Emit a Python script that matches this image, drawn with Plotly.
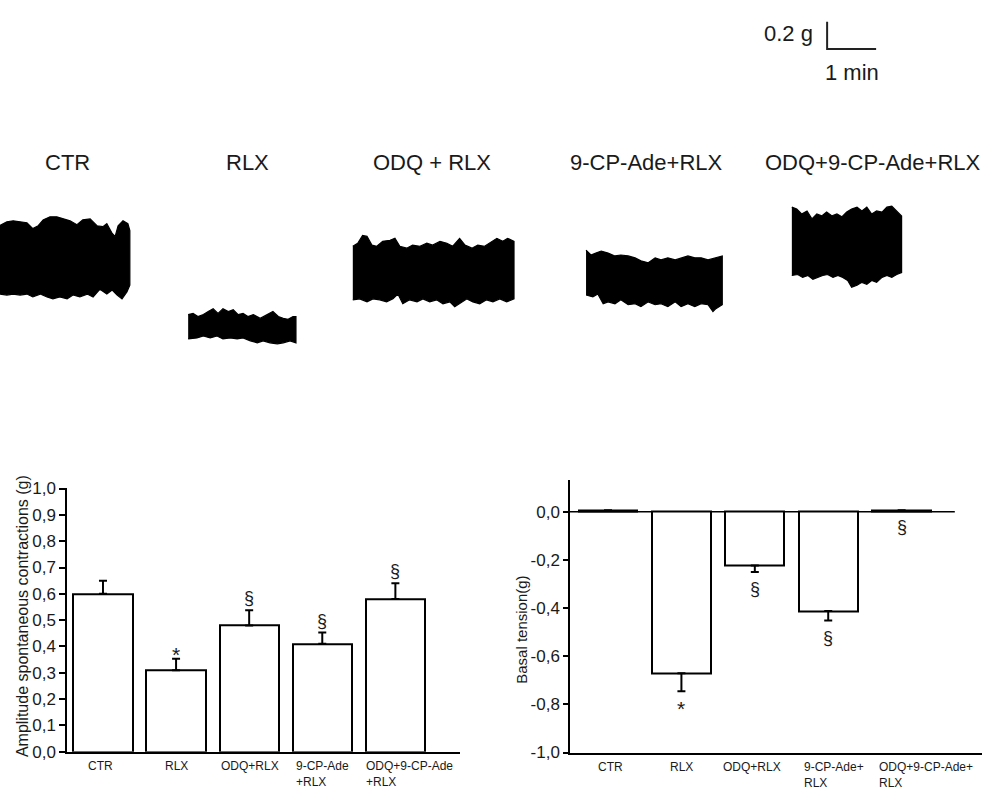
import plotly.graph_objects as go

# ------------------------------------------------------------------ data
categories = ["CTR", "RLX", "ODQ+RLX", "9-CP-Ade+RLX", "ODQ+9-CP-Ade+RLX"]

# Amplitude of spontaneous contractions (g): mean and SEM
amp_mean = [0.60, 0.31, 0.48, 0.41, 0.58]
amp_sem = [0.05, 0.043, 0.058, 0.043, 0.06]
amp_marks = ["", "*", "§", "§", "§"]
amp_ticklabels = ["CTR", "RLX", "ODQ+RLX", "9-CP-Ade<br>+RLX", "ODQ+9-CP-Ade<br>+RLX"]
amp_yticks = [0.0, 0.1, 0.2, 0.3, 0.4, 0.5, 0.6, 0.7, 0.8, 0.9, 1.0]

# Basal tension (g): mean and SEM
basal_mean = [0.006, -0.671, -0.223, -0.412, 0.006]
basal_sem = [0.0, 0.075, 0.027, 0.040, 0.0]
basal_marks = ["", "*", "§", "§", "§"]
basal_ticklabels = ["CTR", "RLX", "ODQ+RLX", "9-CP-Ade+<br>RLX", "ODQ+9-CP-Ade+<br>RLX"]
basal_yticks = [0.0, -0.2, -0.4, -0.6, -0.8, -1.0]
basal_yticktext = ["0,0", "-0,2", "-0,4", "-0,6", "-0,8", "-1,0"]

# Original tracings: envelope of the recorded tension (g) vs time (min)
record_titles = ["CTR", "RLX", "ODQ + RLX", "9-CP-Ade+RLX", "ODQ+9-CP-Ade+RLX"]

ctr_t_top = [0, 0.14, 0.27, 0.41, 0.55, 0.67, 0.78, 0.88, 1.02, 1.16, 1.29, 1.43,
             1.57, 1.69, 1.84, 1.98, 2.10, 2.18, 2.29, 2.35, 2.41, 2.51, 2.61, 2.65]
ctr_g_top = [1.274, 1.300, 1.307, 1.300, 1.293, 1.250, 1.271, 1.314, 1.336, 1.336, 1.321, 1.307,
             1.279, 1.314, 1.321, 1.271, 1.264, 1.286, 1.214, 1.193, 1.271, 1.307, 1.286, 1.236]
ctr_t_bot = [0, 0.14, 0.27, 0.41, 0.55, 0.67, 0.82, 0.96, 1.08, 1.22, 1.37, 1.49,
             1.63, 1.78, 1.90, 2.04, 2.18, 2.29, 2.39, 2.49, 2.59, 2.65]
ctr_g_bot = [0.771, 0.764, 0.771, 0.764, 0.771, 0.750, 0.771, 0.750, 0.736, 0.750, 0.736, 0.764,
             0.750, 0.771, 0.750, 0.807, 0.771, 0.800, 0.764, 0.736, 0.786, 0.836]

rlx_t_top = [0, 0.10, 0.20, 0.31, 0.41, 0.51, 0.61, 0.71, 0.82, 0.92, 1.02, 1.12,
             1.22, 1.33, 1.47, 1.61, 1.73, 1.84, 1.94, 2.04, 2.14, 2.20]
rlx_g_top = [0.621, 0.629, 0.607, 0.621, 0.643, 0.664, 0.629, 0.664, 0.643, 0.657, 0.621, 0.629,
             0.607, 0.621, 0.593, 0.621, 0.643, 0.607, 0.593, 0.586, 0.607, 0.607]
rlx_t_bot = [0, 0.18, 0.31, 0.45, 0.59, 0.71, 0.86, 1.00, 1.12, 1.27, 1.41, 1.53,
             1.67, 1.82, 1.94, 2.08, 2.20]
rlx_g_bot = [0.443, 0.450, 0.464, 0.450, 0.464, 0.443, 0.450, 0.443, 0.450, 0.429, 0.414, 0.429,
             0.414, 0.407, 0.414, 0.429, 0.414]

odq_t_top = [0, 0.10, 0.20, 0.29, 0.39, 0.49, 0.61, 0.76, 0.86, 0.96, 1.10, 1.22, 1.37, 1.51,
             1.63, 1.78, 1.92, 2.04, 2.18, 2.29, 2.43, 2.55, 2.69, 2.84, 2.94, 3.06, 3.16, 3.29]
odq_g_top = [1.121, 1.143, 1.200, 1.193, 1.129, 1.121, 1.157, 1.164, 1.179, 1.121, 1.107, 1.129,
             1.121, 1.143, 1.129, 1.157, 1.143, 1.121, 1.179, 1.129, 1.107, 1.129, 1.121, 1.157,
             1.179, 1.157, 1.179, 1.157]
odq_t_bot = [0, 0.14, 0.29, 0.41, 0.55, 0.69, 0.82, 0.92, 1.02, 1.16, 1.31, 1.43, 1.57,
             1.71, 1.84, 1.98, 2.08, 2.18, 2.33, 2.45, 2.59, 2.73, 2.86, 3.00, 3.14, 3.29]
odq_g_bot = [0.729, 0.736, 0.714, 0.736, 0.729, 0.714, 0.736, 0.771, 0.700, 0.729, 0.714, 0.736,
             0.714, 0.729, 0.700, 0.714, 0.679, 0.700, 0.736, 0.714, 0.700, 0.729, 0.714, 0.736,
             0.714, 0.736]

cp_t_top = [0, 0.10, 0.20, 0.31, 0.45, 0.59, 0.71, 0.86, 1.00, 1.12, 1.27, 1.41,
            1.53, 1.67, 1.82, 1.94, 2.08, 2.22, 2.35, 2.49, 2.63, 2.78]
cp_g_top = [1.093, 1.057, 1.071, 1.086, 1.071, 1.050, 1.057, 1.050, 1.036, 1.014, 1.000, 1.036,
            1.021, 1.036, 1.021, 1.036, 1.050, 1.036, 1.036, 1.021, 1.036, 1.050]
cp_t_bot = [0, 0.14, 0.24, 0.35, 0.45, 0.59, 0.71, 0.86, 1.00, 1.12, 1.27, 1.41,
            1.53, 1.67, 1.82, 1.94, 2.08, 2.22, 2.35, 2.49, 2.59, 2.65, 2.78]
cp_g_bot = [0.764, 0.750, 0.771, 0.700, 0.714, 0.700, 0.729, 0.693, 0.700, 0.679, 0.714, 0.693,
            0.700, 0.679, 0.714, 0.679, 0.700, 0.679, 0.700, 0.693, 0.643, 0.664, 0.693]

odqcp_t_top = [0, 0.10, 0.20, 0.31, 0.41, 0.51, 0.61, 0.71, 0.82, 0.92, 1.02, 1.12,
               1.22, 1.33, 1.43, 1.53, 1.63, 1.73, 1.84, 1.94, 2.04, 2.14, 2.24]
odqcp_g_top = [1.407, 1.393, 1.357, 1.379, 1.321, 1.357, 1.343, 1.371, 1.343, 1.357, 1.336, 1.371,
               1.393, 1.407, 1.379, 1.407, 1.357, 1.379, 1.371, 1.407, 1.414, 1.379, 1.343]
odqcp_t_bot = [0, 0.12, 0.22, 0.33, 0.43, 0.53, 0.63, 0.73, 0.84, 0.94, 1.04, 1.14,
               1.22, 1.33, 1.43, 1.53, 1.63, 1.73, 1.84, 1.94, 2.04, 2.14, 2.24]
odqcp_g_bot = [0.907, 0.914, 0.893, 0.907, 0.879, 0.893, 0.907, 0.914, 0.893, 0.907, 0.893, 0.871,
               0.821, 0.836, 0.857, 0.843, 0.871, 0.857, 0.893, 0.907, 0.893, 0.914, 0.929]

scale_tension_g = 0.2
scale_time_min = 1.0

# ------------------------------------------------------------------ layout constants
W, H = 993, 794
FONT = "Liberation Sans, Arial, Helvetica, sans-serif"
TXT = "#1a1a1a"

records = [
    (ctr_t_top, ctr_g_top, ctr_t_bot, ctr_g_bot),
    (rlx_t_top, rlx_g_top, rlx_t_bot, rlx_g_bot),
    (odq_t_top, odq_g_top, odq_t_bot, odq_g_bot),
    (cp_t_top, cp_g_top, cp_t_bot, cp_g_bot),
    (odqcp_t_top, odqcp_g_top, odqcp_t_bot, odqcp_g_bot),
]
record_start = [0.0, 3.84, 7.20, 11.96, 16.16]      # horizontal placement of each tracing (min)
record_title_px = [67, 247, 432, 646, 873]           # title centres (px)
scalebar_origin = (16.88, 2.564)                     # corner of the calibration bar

amp_label_shift = [-2, 0, 1, 0, 14]
basal_label_shift = [2, 0, -3, 6, 24]


def px_x(p):
    return p / W


def px_y(p):
    return 1 - p / H


fig = go.Figure()

# ------------------------------------------------------------------ tracings
for (tt, gt, tb, gb), t0 in zip(records, record_start):
    xs = [t0 + t for t in tt] + [t0 + t for t in reversed(tb)]
    ys = list(gt) + list(reversed(gb))
    fig.add_trace(go.Scatter(
        x=xs, y=ys, xaxis="x3", yaxis="y3", mode="lines", fill="toself",
        fillcolor="black", line=dict(color="black", width=1.2), hoverinfo="skip"))

sx, sy = scalebar_origin
fig.add_trace(go.Scatter(
    x=[sx, sx, sx + scale_time_min], y=[sy + scale_tension_g, sy, sy],
    xaxis="x3", yaxis="y3", mode="lines", line=dict(color="#222", width=2),
    hoverinfo="skip"))

# ------------------------------------------------------------------ bar charts
fig.add_trace(go.Bar(
    x=categories, y=amp_mean, xaxis="x", yaxis="y", width=0.81,
    marker=dict(color="white", line=dict(color="black", width=2)),
    error_y=dict(type="data", symmetric=False, array=amp_sem, arrayminus=[0] * len(amp_sem),
                 color="black", thickness=2, width=4)))

fig.add_trace(go.Bar(
    x=categories, y=basal_mean, xaxis="x2", yaxis="y2", width=0.80,
    marker=dict(color="white", line=dict(color="black", width=2)),
    error_y=dict(type="data", symmetric=False, array=[0] * len(basal_sem), arrayminus=basal_sem,
                 color="black", thickness=2, width=4)))

annotations = []

# significance marks
for c, m, s, mk in zip(categories, amp_mean, amp_sem, amp_marks):
    if mk:
        annotations.append(dict(x=c, y=m + s, xref="x", yref="y", text=mk, showarrow=False,
                                yanchor="middle", yshift=4 if mk == "*" else 12,
                                font=dict(size=21 if mk == "*" else 18, color=TXT)))
for c, m, s, mk in zip(categories, basal_mean, basal_sem, basal_marks):
    if mk:
        annotations.append(dict(x=c, y=m - s, xref="x2", yref="y2", text=mk, showarrow=False,
                                yanchor="middle", yshift=-17,
                                font=dict(size=21 if mk == "*" else 18, color=TXT)))

# category labels
for c, lab, sh in zip(categories, amp_ticklabels, amp_label_shift):
    annotations.append(dict(x=c, y=0, xref="x", yref="y domain", text=lab, showarrow=False,
                            xanchor="center", yanchor="top", align="left", xshift=sh, yshift=-5,
                            font=dict(size=12, color=TXT)))
for c, lab, sh in zip(categories, basal_ticklabels, basal_label_shift):
    annotations.append(dict(x=c, y=0, xref="x2", yref="y2 domain", text=lab, showarrow=False,
                            xanchor="center", yanchor="top", align="left", xshift=sh, yshift=-5,
                            font=dict(size=12, color=TXT)))

# y-axis titles
annotations.append(dict(x=px_x(22), y=px_y(622), xref="paper", yref="paper",
                        text="Amplitude spontaneous contractions (g)", textangle=-90,
                        showarrow=False, xanchor="center", yanchor="middle",
                        font=dict(size=16, color=TXT)))
annotations.append(dict(x=px_x(522), y=px_y(636), xref="paper", yref="paper",
                        text="Basal tension(g)", textangle=-90,
                        showarrow=False, xanchor="center", yanchor="middle",
                        font=dict(size=15, color=TXT)))

# tracing titles
for title, xc in zip(record_titles, record_title_px):
    annotations.append(dict(x=px_x(xc), y=px_y(157), xref="paper", yref="paper", text=title,
                            showarrow=False, xanchor="center", yanchor="middle",
                            font=dict(size=22, color=TXT)))

# calibration labels
annotations.append(dict(x=sx, y=sy + scale_tension_g / 2, xref="x3", yref="y3",
                        text="0.2 g", showarrow=False, xanchor="right", yanchor="middle",
                        xshift=-12, yshift=2, font=dict(size=22, color=TXT)))
annotations.append(dict(x=sx + scale_time_min / 2, y=sy, xref="x3", yref="y3",
                        text="1 min", showarrow=False, xanchor="center", yanchor="top",
                        yshift=-9, font=dict(size=22, color=TXT)))

shapes = [dict(type="line", xref="x2 domain", yref="y2", x0=0, x1=0.934, y0=0, y1=0,
               line=dict(color="black", width=1.5), layer="below")]

axis_common = dict(showgrid=False, zeroline=False, linecolor="black", linewidth=1.5)

fig.update_layout(
    width=W, height=H, margin=dict(l=0, r=0, t=0, b=0),
    paper_bgcolor="white", plot_bgcolor="rgba(0,0,0,0)",
    showlegend=False, separators=",.", bargap=0,
    font=dict(family=FONT, color=TXT),
    xaxis=dict(domain=[px_x(67), px_x(460)], range=[-0.492, 4.884], type="category",
               categoryorder="array", categoryarray=categories, showline=True,
               showticklabels=False, ticks="", anchor="y", **axis_common),
    yaxis=dict(domain=[px_y(761), px_y(491)], range=[0, 1.001], anchor="x",
               tickvals=amp_yticks, tickformat=".1f", ticks="outside", ticklen=6,
               tickwidth=1.5, tickcolor="black", showline=True,
               tickfont=dict(size=17, color=TXT), **axis_common),
    xaxis2=dict(domain=[px_x(570), px_x(982)], range=[-0.518, 5.095], type="category",
                categoryorder="array", categoryarray=categories, showline=True,
                showticklabels=False, ticks="", anchor="y2", **axis_common),
    yaxis2=dict(domain=[px_y(762), px_y(483)], range=[-1.001, 0.13], anchor="x2",
                tickvals=basal_yticks, ticktext=basal_yticktext, ticks="outside", ticklen=5,
                tickwidth=1.5, tickcolor="black", showline=True,
                tickfont=dict(size=17, color=TXT), **axis_common),
    xaxis3=dict(domain=[0, 1], range=[0, W / 49], visible=False, anchor="y3"),
    yaxis3=dict(domain=[px_y(400), 1], range=[0, 400 / 140], visible=False, anchor="x3"),
    annotations=annotations,
    shapes=shapes,
)

fig.write_html("out.html")
